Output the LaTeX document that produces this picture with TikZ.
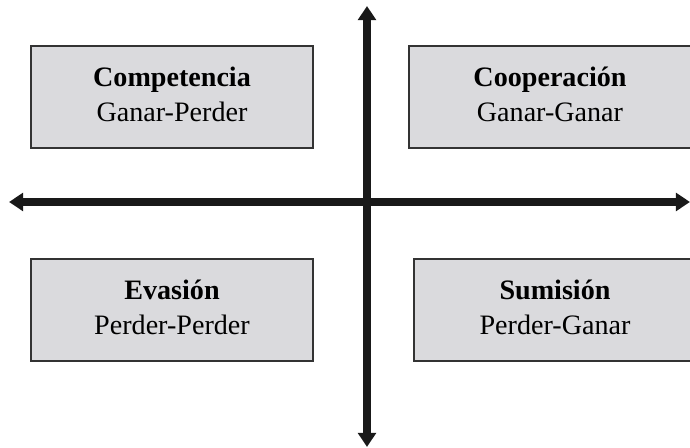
\documentclass[tikz,border=0pt]{standalone}
\usepackage{fontspec}
\setmainfont{Liberation Serif}
\usetikzlibrary{arrows.meta}

\definecolor{boxgray}{RGB}{218,218,221}
\tikzset{
	quad/.style={draw=black!80, line width=1.3pt, fill=boxgray,
		minimum width=5.64cm, minimum height=2.04cm, align=center,
		font=\fontsize{16}{20}\selectfont},
	axis/.style={line width=4.4pt, color=black!90,
		{Triangle[length=8pt,width=10pt]}-{Triangle[length=8pt,width=10pt]}}
}

\begin{document}
\begin{tikzpicture}[x=0.02cm, y=-0.02cm]

	\clip (0,0) rectangle (690,448);

	\node[quad] (compet) at (172,97) {\textbf{Competencia}\\Ganar-Perder\\[-17pt]};
	\node[quad] (coop) at (550,97) {\textbf{Cooperación}\\Ganar-Ganar\\[-17pt]};
	\node[quad] (evas) at (172,310) {\textbf{Evasión}\\Perder-Perder\\[-17pt]};
	\node[quad] (sumis) at (555,310) {\textbf{Sumisión}\\Perder-Ganar\\[-17pt]};

	\coordinate (west) at (9,202);
	\coordinate (east) at (690,202);
	\coordinate (north) at (367,6);
	\coordinate (south) at (367,447);

	\draw[axis] (west)--(east);
	\draw[axis] (south)--(north);

\end{tikzpicture}
\end{document}
